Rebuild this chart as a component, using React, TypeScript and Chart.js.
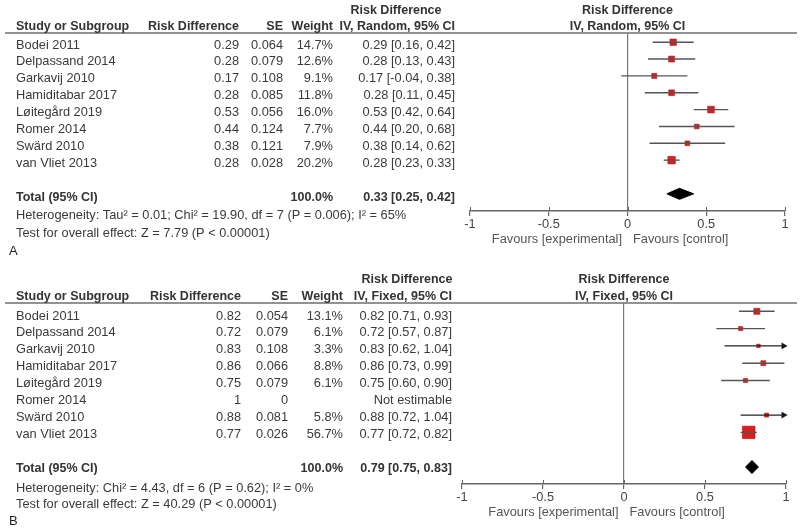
import React, { useEffect, useRef } from "react";
import { Chart, registerables } from "chart.js";

Chart.register(...registerables);

// ---------- data ----------
const studies = [
  "Bodei 2011",
  "Delpassand 2014",
  "Garkavij 2010",
  "Hamiditabar 2017",
  "Løitegård 2019",
  "Romer 2014",
  "Swärd 2010",
  "van Vliet 2013",
];

// Panel A (IV, Random)
const rdA = [0.29, 0.28, 0.17, 0.28, 0.53, 0.44, 0.38, 0.28];
const seA = [0.064, 0.079, 0.108, 0.085, 0.056, 0.124, 0.121, 0.028];
const weightA = [14.7, 12.6, 9.1, 11.8, 16.0, 7.7, 7.9, 20.2];
const lowerA = [0.16, 0.13, -0.04, 0.11, 0.42, 0.2, 0.14, 0.23];
const upperA = [0.42, 0.43, 0.38, 0.45, 0.64, 0.68, 0.62, 0.33];
const totalA = [0.33, 0.25, 0.42];
const totalWeightA = 100.0;
const hetA = "Heterogeneity: Tau² = 0.01; Chi² = 19.90, df = 7 (P = 0.006); I² = 65%";
const testA = "Test for overall effect: Z = 7.79 (P < 0.00001)";

// Panel B (IV, Fixed)
const rdB = [0.82, 0.72, 0.83, 0.86, 0.75, 1, 0.88, 0.77];
const seB = [0.054, 0.079, 0.108, 0.066, 0.079, 0, 0.081, 0.026];
const weightB: (number | null)[] = [13.1, 6.1, 3.3, 8.8, 6.1, null, 5.8, 56.7];
const lowerB: (number | null)[] = [0.71, 0.57, 0.62, 0.73, 0.6, null, 0.72, 0.72];
const upperB: (number | null)[] = [0.93, 0.87, 1.04, 0.99, 0.9, null, 1.04, 0.82];
const totalB = [0.79, 0.75, 0.83];
const totalWeightB = 100.0;
const hetB = "Heterogeneity: Chi² = 4.43, df = 6 (P = 0.62); I² = 0%";
const testB = "Test for overall effect: Z = 40.29 (P < 0.00001)";

const xTicks = [-1, -0.5, 0, 0.5, 1];

// ---------- styling ----------
const FAMILY = '"Liberation Sans", Arial, sans-serif';
const FS = 12.8;
const FSB = 12.5;
const TEXT = "#3a3a3a";
const LINE = "#6e6e6e";

type Panel = {
  letter: string;
  method: string;
  rd: number[];
  se: number[];
  w: (number | null)[];
  lo: (number | null)[];
  hi: (number | null)[];
  total: number[];
  totalW: number;
  het: string;
  test: string;
  height: number;
  padLeft: number;
  padRight: number;
  top: number;
  axisY: number;
  row0: number;
  rowStep: number;
  textRow0: number;
  textStep: number;
  h1: number;
  h2: number;
  hetY: number;
  testY: number;
  letterY: number;
  favY: number;
  rdR: number;
  seR: number;
  wR: number;
  ciR: number;
  hdrC: number;
  maxSide: number;
  diamondHalf: number;
};

const panels: Panel[] = [
  {
    letter: "A",
    method: "IV, Random, 95% CI",
    rd: rdA, se: seA, w: weightA, lo: lowerA, hi: upperA, total: totalA, totalW: totalWeightA,
    het: hetA, test: testA,
    height: 265, padLeft: 470, padRight: 15, top: 33, axisY: 211,
    row0: 42.2, rowStep: 16.85, textRow0: 45, textStep: 16.9,
    h1: 11, h2: 27, hetY: 215, testY: 233, letterY: 251, favY: 239,
    rdR: 239, seR: 283, wR: 333, ciR: 455, hdrC: 396,
    maxSide: 7.5, diamondHalf: 5.5,
  },
  {
    letter: "B",
    method: "IV, Fixed, 95% CI",
    rd: rdB, se: seB, w: weightB, lo: lowerB, hi: upperB, total: totalB, totalW: totalWeightB,
    het: hetB, test: testB,
    height: 266, padLeft: 462, padRight: 14, top: 38, axisY: 219,
    row0: 46.3, rowStep: 17.3, textRow0: 51, textStep: 16.9,
    h1: 15, h2: 32, hetY: 223, testY: 239, letterY: 256, favY: 247,
    rdR: 241, seR: 288, wR: 343, ciR: 452, hdrC: 407,
    maxSide: 12.5, diamondHalf: 6.5,
  },
];

const fmtRd = (v: number) => (Number.isInteger(v) ? String(v) : v.toFixed(2));
const fmtSe = (v: number) => (v === 0 ? "0" : v.toFixed(3));

function buildChart(canvas: HTMLCanvasElement, p: Panel) {
  const n = studies.length;
  const totalIdx = n + 1;
  const yMin = -(p.row0 - p.top) / p.rowStep;
  const yMax = (p.axisY - p.row0) / p.rowStep;
  const maxW = Math.max(...(p.w.filter((v) => v != null) as number[]));

  const datasets: any[] = [];
  // whiskers
  for (let i = 0; i < n; i++) {
    const lo = p.lo[i];
    const hi = p.hi[i];
    if (lo == null || hi == null) continue;
    const over = hi > 1;
    datasets.push({
      type: "line",
      data: [
        { x: Math.max(lo, -1), y: i },
        { x: Math.min(hi, 1), y: i },
      ],
      borderColor: over ? "#222" : "#555",
      borderWidth: 1.4,
      pointRadius: 0,
      tension: 0,
      fill: false,
    });
    if (over) {
      datasets.push({
        type: "scatter",
        data: [{ x: 0.985, y: i }],
        pointStyle: "triangle",
        rotation: 90,
        pointRadius: 4,
        backgroundColor: "#111",
        borderColor: "#111",
        borderWidth: 0,
        clip: false,
      });
    }
  }
  // study markers
  const mk: { x: number; y: number }[] = [];
  const radii: number[] = [];
  for (let i = 0; i < n; i++) {
    const w = p.w[i];
    if (w == null) continue;
    mk.push({ x: p.rd[i], y: i });
    const side = Math.max(3.5, p.maxSide * Math.sqrt(w / maxW));
    radii.push(side / Math.SQRT2);
  }
  datasets.push({
    type: "scatter",
    data: mk,
    pointStyle: "rect",
    pointRadius: radii,
    backgroundColor: "#d81e1e",
    borderColor: "#b31212",
    borderWidth: 0.6,
  });
  // diamond
  const dh = p.diamondHalf / p.rowStep;
  const [est, tlo, thi] = p.total;
  datasets.push({
    type: "line",
    data: [
      { x: tlo, y: totalIdx },
      { x: est, y: totalIdx - dh },
      { x: thi, y: totalIdx },
      { x: est, y: totalIdx + dh },
      { x: tlo, y: totalIdx },
    ],
    borderColor: "#000",
    backgroundColor: "#000",
    borderWidth: 1,
    pointRadius: 0,
    tension: 0,
    fill: "shape",
  });

  const tablePlugin = {
    id: "tablePlugin",
    afterDraw(chart: any) {
      const ctx = chart.ctx as CanvasRenderingContext2D;
      const xs = chart.scales.x;
      const area = chart.chartArea;
      const zeroX = xs.getPixelForValue(0);
      const t = (s: string, x: number, y: number, align: CanvasTextAlign, bold = false, size = FS, color = TEXT) => {
        ctx.font = `${bold ? "bold " : ""}${size}px ${FAMILY}`;
        ctx.fillStyle = color;
        ctx.textAlign = align;
        ctx.textBaseline = "middle";
        ctx.fillText(s, x, y);
      };
      ctx.save();
      // header underline
      ctx.strokeStyle = LINE;
      ctx.lineWidth = 1.4;
      ctx.beginPath();
      ctx.moveTo(5, area.top);
      ctx.lineTo(797, area.top);
      ctx.stroke();
      // upward tick extensions
      ctx.lineWidth = 1;
      ctx.strokeStyle = "#666";
      for (const v of xTicks) {
        const px = Math.round(xs.getPixelForValue(v)) + 0.5;
        ctx.beginPath();
        ctx.moveTo(px, area.bottom - 4);
        ctx.lineTo(px, area.bottom);
        ctx.stroke();
      }
      const HB = "#333";
      // headers
      t("Risk Difference", p.hdrC, p.h1, "center", true, FSB, HB);
      t("Risk Difference", zeroX, p.h1, "center", true, FSB, HB);
      t("Study or Subgroup", 16, p.h2, "left", true, FSB, HB);
      t("Risk Difference", p.rdR, p.h2, "right", true, FSB, HB);
      t("SE", p.seR, p.h2, "right", true, FSB, HB);
      t("Weight", p.wR, p.h2, "right", true, FSB, HB);
      t(p.method, p.ciR, p.h2, "right", true, FSB, HB);
      t(p.method, zeroX, p.h2, "center", true, FSB, HB);
      // rows
      for (let i = 0; i < n; i++) {
        const y = p.textRow0 + p.textStep * i;
        t(studies[i], 16, y, "left");
        t(fmtRd(p.rd[i]), p.rdR, y, "right");
        t(fmtSe(p.se[i]), p.seR, y, "right");
        const w = p.w[i];
        const lo = p.lo[i];
        const hi = p.hi[i];
        if (w != null) t(w.toFixed(1) + "%", p.wR, y, "right");
        if (lo != null && hi != null) {
          t(`${p.rd[i].toFixed(2)} [${lo.toFixed(2)}, ${hi.toFixed(2)}]`, p.ciR, y, "right");
        } else {
          t("Not estimable", p.ciR, y, "right");
        }
      }
      const ty = p.textRow0 + p.textStep * totalIdx;
      t("Total (95% CI)", 16, ty, "left", true, FSB, HB);
      t(p.totalW.toFixed(1) + "%", p.wR, ty, "right", true, FSB, HB);
      t(`${est.toFixed(2)} [${tlo.toFixed(2)}, ${thi.toFixed(2)}]`, p.ciR, ty, "right", true, FSB, HB);
      t(p.het, 16, p.hetY, "left");
      t(p.test, 16, p.testY, "left");
      t(p.letter, 9, p.letterY, "left", false, 13, "#222");
      // favours
      t("Favours [experimental]", zeroX - 5.5, p.favY, "right", false, FS, "#555");
      t("Favours [control]", zeroX + 5.5, p.favY, "left", false, FS, "#555");
      ctx.restore();
    },
  };

  return new Chart(canvas, {
    type: "scatter",
    data: { datasets },
    options: {
      animation: false,
      responsive: false,
      maintainAspectRatio: false,
      events: [],
      layout: { padding: { left: p.padLeft, right: p.padRight, top: p.top, bottom: 0 } },
      plugins: { legend: { display: false }, tooltip: { enabled: false } },
      scales: {
        x: {
          type: "linear",
          min: -1,
          max: 1,
          position: "bottom",
          afterBuildTicks: (scale: any) => {
            scale.ticks = xTicks.map((v) => ({ value: v }));
          },
          afterFit: (scale: any) => {
            scale.height = p.height - p.axisY;
          },
          ticks: {
            autoSkip: false,
            maxRotation: 0,
            padding: 1,
            color: "#444",
            font: { family: FAMILY, size: FS },
            callback: (v: any) => String(v),
          },
          grid: {
            drawOnChartArea: true,
            color: (c: any) => (c.tick && c.tick.value === 0 ? "#777" : "rgba(0,0,0,0)"),
            tickColor: "#666",
            tickLength: 5,
            lineWidth: 1.2,
          },
          border: { color: "#666", width: 1.4 },
        },
        y: {
          type: "linear",
          display: false,
          reverse: true,
          min: yMin,
          max: yMax,
        },
      },
    } as any,
    plugins: [tablePlugin],
  });
}

function PanelChart({ p }: { p: Panel }) {
  const ref = useRef<HTMLCanvasElement | null>(null);
  useEffect(() => {
    if (!ref.current) return;
    const ch = buildChart(ref.current, p);
    return () => ch.destroy();
  }, [p]);
  return <canvas ref={ref} width={800} height={p.height} style={{ display: "block", width: 800, height: p.height }} />;
}

export default function App() {
  return (
    <div style={{ position: "absolute", left: 0, top: 0, width: 800, height: 531, background: "#fff" }}>
      {panels.map((p) => (
        <PanelChart key={p.letter} p={p} />
      ))}
    </div>
  );
}
